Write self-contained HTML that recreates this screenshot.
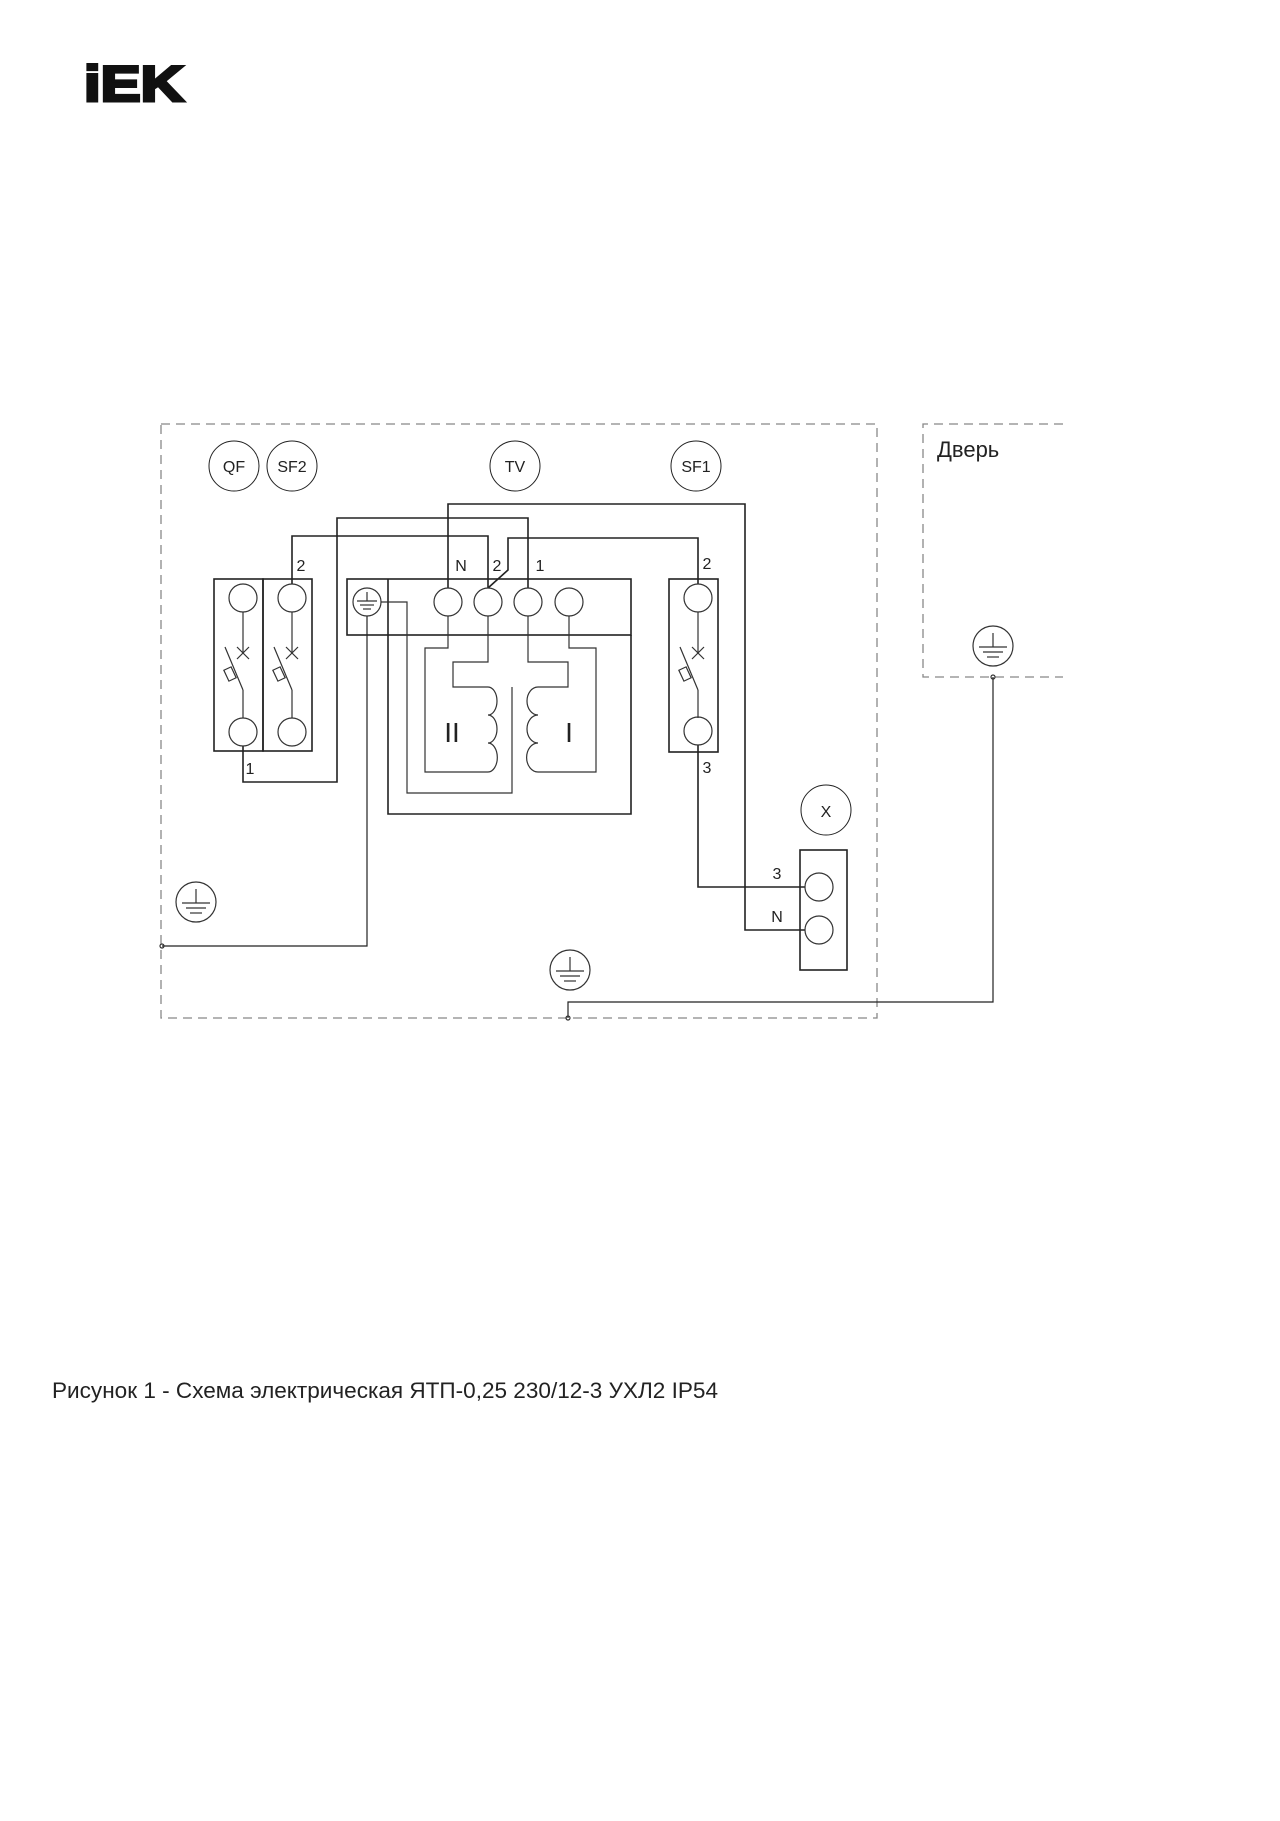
<!DOCTYPE html>
<html><head><meta charset="utf-8"><style>html,body{margin:0;padding:0;background:#fff}svg{display:block}</style></head><body>
<svg width="1280" height="1821" viewBox="0 0 1280 1821" xmlns="http://www.w3.org/2000/svg" font-family="Liberation Sans, sans-serif">
<text x="84" y="101" font-size="50" font-weight="bold" textLength="100" lengthAdjust="spacingAndGlyphs" fill="#111" stroke="#111" stroke-width="3">iEK</text>
<g fill="none" stroke="#888" stroke-width="1.3" stroke-dasharray="9,6">
<rect x="161" y="424" width="716" height="594"/>
<polyline points="1063,424 923,424 923,677 1063,677"/>
</g>
<g fill="none" stroke="#222" stroke-width="1.6">
<circle cx="234" cy="466" r="25" stroke-width="1"/><circle cx="292" cy="466" r="25" stroke-width="1"/>
<circle cx="515" cy="466" r="25" stroke-width="1"/><circle cx="696" cy="466" r="25" stroke-width="1"/>
<circle cx="826" cy="810" r="25" stroke-width="1"/>
<rect x="214" y="579" width="49" height="172"/><rect x="263" y="579" width="49" height="172"/>
<rect x="669" y="579" width="49" height="173"/>
<rect x="347" y="579" width="284" height="56"/>
<polyline points="388,579 388,814 631,814 631,635"/>
<rect x="800" y="850" width="47" height="120"/>
<polyline points="243,746 243,782 337,782 337,518 528,518 528,588"/>
<polyline points="292,584 292,536 488,536 488,588"/>
<polyline points="698,584 698,538 508,538 508,570 488,588"/>
<polyline points="448,588 448,504 745,504 745,930 805,930"/>
<polyline points="698,745 698,887 805,887"/>
<polyline points="367,616 367,946 162,946" stroke-width="1.2"/>
<polyline points="993,677 993,1002 568,1002 568,1018" stroke-width="1.2"/>
</g>
<g fill="none" stroke="#333" stroke-width="1.2">
<circle cx="243" cy="598" r="14"/><circle cx="243" cy="732" r="14"/>
<circle cx="292" cy="598" r="14"/><circle cx="292" cy="732" r="14"/>
<circle cx="698" cy="598" r="14"/><circle cx="698" cy="731" r="14"/>
<circle cx="448" cy="602" r="14"/><circle cx="488" cy="602" r="14"/><circle cx="528" cy="602" r="14"/><circle cx="569" cy="602" r="14"/>
<circle cx="367" cy="602" r="14"/>
<circle cx="819" cy="887" r="14"/><circle cx="819" cy="930" r="14"/>
<g id="brk">
<line x1="243" y1="612" x2="243" y2="653"/><line x1="237" y1="647" x2="249" y2="659"/><line x1="237" y1="659" x2="249" y2="647"/>
<line x1="225" y1="647" x2="243" y2="690"/><rect x="226" y="668" width="8" height="12" transform="rotate(-25 230 674)"/>
<line x1="243" y1="690" x2="243" y2="718"/>
</g>
<use href="#brk" x="49"/><use href="#brk" x="455"/>
<polyline points="381,602 407,602 407,793 512,793 512,687"/>
<polyline points="448,616 448,648 425,648 425,772 488,772"/>
<polyline points="488,616 488,662 453,662 453,687 488,687"/>
<path d="M488,687 a9,14 0 0 1 0,28 a9,14 0 0 1 0,28 a9,14 0 0 1 0,29"/>
<polyline points="528,616 528,662 568,662 568,687 538,687"/>
<path d="M538,687 a11,14 0 0 0 0,28 a11,14 0 0 0 0,28 a11,14 0 0 0 0,29"/>
<polyline points="538,772 596,772 596,648 569,648 569,616"/>
<line x1="357" y1="601" x2="377" y2="601"/><line x1="367" y1="592" x2="367" y2="601"/><line x1="360" y1="605" x2="374" y2="605"/><line x1="363" y1="609" x2="371" y2="609"/>
<g id="gnd"><circle cx="196" cy="902" r="20"/><line x1="182" y1="903" x2="210" y2="903"/><line x1="196" y1="889" x2="196" y2="903"/><line x1="186" y1="908" x2="206" y2="908"/><line x1="190" y1="913" x2="202" y2="913"/></g>
<use href="#gnd" x="374" y="68"/><use href="#gnd" x="797" y="-256"/>
<circle cx="162" cy="946" r="2"/><circle cx="568" cy="1018" r="2"/><circle cx="993" cy="677" r="2"/>
</g>
<g fill="#222" font-size="16" text-anchor="middle">
<text x="234" y="472">QF</text><text x="292" y="472">SF2</text><text x="515" y="472">TV</text><text x="696" y="472">SF1</text><text x="826" y="817">X</text>
<text x="301" y="571">2</text><text x="461" y="571">N</text><text x="497" y="571">2</text><text x="540" y="571">1</text>
<text x="250" y="774">1</text><text x="707" y="569">2</text><text x="707" y="773">3</text>
<text x="777" y="879">3</text><text x="777" y="922">N</text>
<text x="452" y="742" font-size="28">II</text><text x="569" y="742" font-size="28">I</text>
</g>
<text x="937" y="457" font-size="22" fill="#222">Дверь</text>
<text x="52" y="1398" font-size="22" fill="#222" textLength="666" lengthAdjust="spacingAndGlyphs">Рисунок 1 - Схема электрическая ЯТП-0,25 230/12-3 УХЛ2 IP54</text>
</svg>
</body></html>
